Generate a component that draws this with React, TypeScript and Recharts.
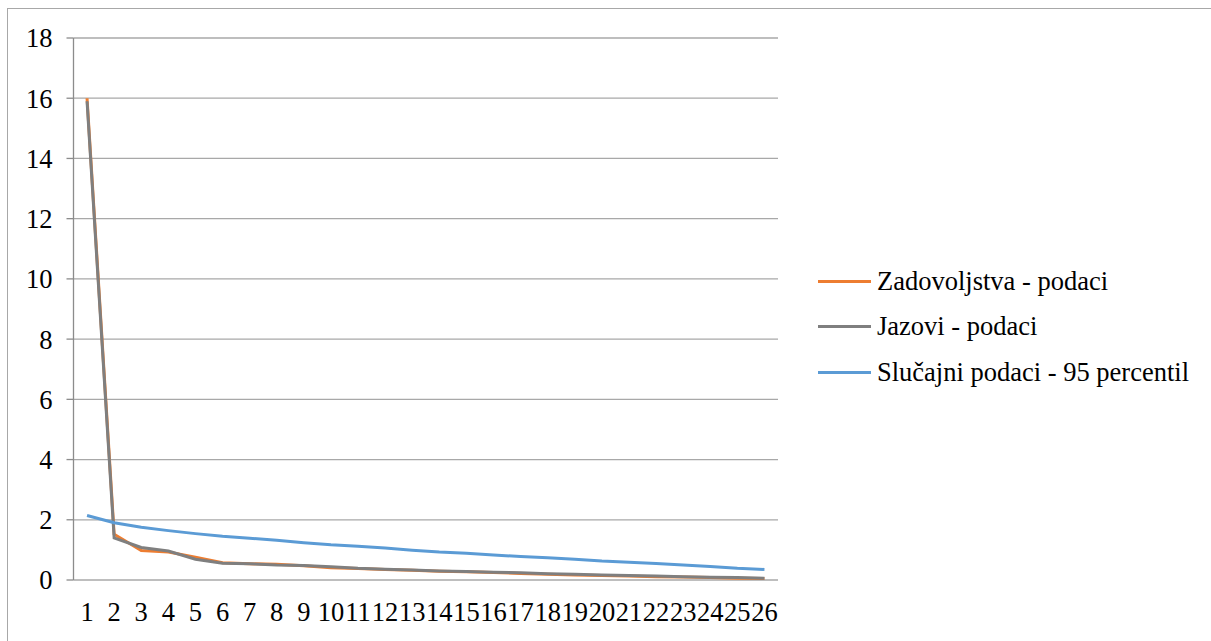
import React from 'react';
import { LineChart, Line, XAxis, YAxis, CartesianGrid } from 'recharts';

// Broj faktora (1..26)
const categories = [1, 2, 3, 4, 5, 6, 7, 8, 9, 10, 11, 12, 13, 14, 15, 16, 17, 18, 19, 20, 21, 22, 23, 24, 25, 26];

const zadovoljstva = [16.0, 1.52, 0.98, 0.93, 0.76, 0.57, 0.54, 0.52, 0.47, 0.41, 0.38, 0.35, 0.32, 0.29, 0.27, 0.25, 0.22, 0.19, 0.17, 0.15, 0.13, 0.11, 0.10, 0.08, 0.06, 0.05];
const jazovi = [15.9, 1.40, 1.08, 0.96, 0.69, 0.56, 0.54, 0.50, 0.48, 0.44, 0.39, 0.36, 0.33, 0.30, 0.28, 0.26, 0.24, 0.21, 0.19, 0.17, 0.15, 0.13, 0.11, 0.09, 0.08, 0.06];
const slucajni = [2.14, 1.90, 1.75, 1.64, 1.54, 1.45, 1.39, 1.32, 1.24, 1.17, 1.12, 1.06, 0.99, 0.93, 0.89, 0.83, 0.78, 0.74, 0.69, 0.63, 0.59, 0.55, 0.50, 0.45, 0.39, 0.35];

const yTicks = [0, 2, 4, 6, 8, 10, 12, 14, 16, 18];

const series = [
  { key: 'zad', name: 'Zadovoljstva - podaci', color: '#ED7D31', values: zadovoljstva },
  { key: 'jaz', name: 'Jazovi - podaci', color: '#7F7F7F', values: jazovi },
  { key: 'slu', name: 'Slučajni podaci - 95 percentil', color: '#5B9BD5', values: slucajni },
];

const data = categories.map((c, i) => {
  const row: Record<string, number> = { x: c };
  series.forEach((s) => {
    row[s.key] = s.values[i];
  });
  return row;
});

// tick marks sit between categories
const boundaries = [...categories.map((c) => c - 0.5), categories[categories.length - 1] + 0.5];
const domain: [number, number] = [boundaries[0], boundaries[boundaries.length - 1]];

const FONT = 'Liberation Serif';
const FONT_SIZE = 26.5;
const AXIS = '#8c8c8c';
const GRID = '#a8a8a8';

export default function App() {
  return (
    <div style={{ position: 'absolute', left: 0, top: 0, width: 1211, height: 641, background: '#fff', overflow: 'hidden', fontFamily: FONT }}>
      <div style={{ position: 'absolute', left: 7, top: 8, width: 1300, height: 700, borderLeft: `1.5px solid ${GRID}`, borderTop: `1.5px solid ${GRID}` }} />
      <div style={{ position: 'absolute', left: 0, top: 0 }}>
        <LineChart width={1211} height={641} data={data} margin={{ top: 38, right: 433, bottom: 0, left: 0 }}>
          <CartesianGrid vertical={false} stroke={GRID} strokeWidth={1.3} />
          <XAxis
            xAxisId="b"
            dataKey="x"
            type="number"
            domain={domain}
            ticks={boundaries}
            tick={false}
            height={0}
            stroke={AXIS}
            strokeWidth={1.3}
            tickSize={7}
          />
          <XAxis
            xAxisId="lab"
            dataKey="x"
            type="number"
            domain={domain}
            ticks={categories}
            interval={0}
            axisLine={false}
            tickLine={false}
            tickMargin={16}
            height={61}
            tick={{ fill: '#000', fontSize: FONT_SIZE, fontFamily: FONT }}
          />
          <YAxis
            domain={[0, 18]}
            ticks={yTicks}
            interval={0}
            width={73.5}
            stroke={AXIS}
            strokeWidth={1.3}
            tickSize={7}
            tickMargin={14}
            tick={{ fill: '#000', fontSize: FONT_SIZE, fontFamily: FONT }}
          />
          {series.map((s) => (
            <Line
              key={s.key}
              xAxisId="lab"
              dataKey={s.key}
              name={s.name}
              stroke={s.color}
              strokeWidth={3}
              dot={false}
              type="linear"
              isAnimationActive={false}
            />
          ))}
        </LineChart>
      </div>
      {series.map((s, i) => (
        <div
          key={s.key}
          style={{ position: 'absolute', left: 818, top: 266 + i * 45.5, height: 30, display: 'flex', alignItems: 'center', whiteSpace: 'nowrap' }}
        >
          <div style={{ width: 53, height: 3, background: s.color, marginRight: 6 }} />
          <span style={{ fontSize: FONT_SIZE, color: '#000', fontFamily: FONT }}>{s.name}</span>
        </div>
      ))}
    </div>
  );
}
